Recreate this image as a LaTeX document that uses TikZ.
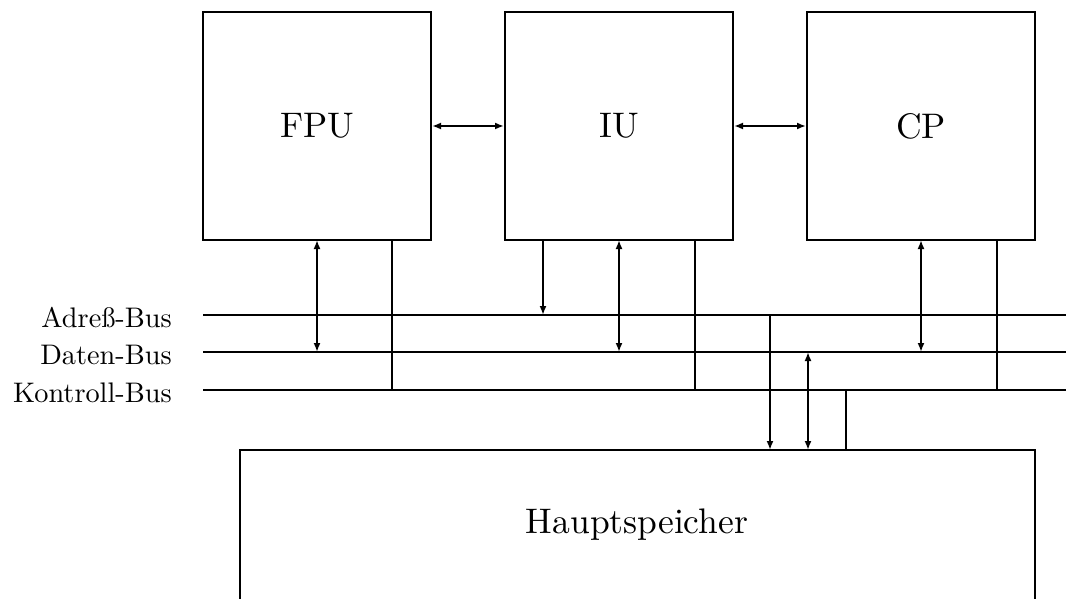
\documentclass[tikz,border=0pt]{standalone}
\usepackage{fontspec}
\setmainfont{lmroman10-regular.otf}
\usetikzlibrary{arrows.meta}
\begin{document}
\begin{tikzpicture}[x=1pt,y=-1pt,
  unitbox/.style={draw,line width=2pt,minimum width=228pt,minimum height=228pt,inner sep=0pt,font=\fontsize{35.5}{42}\selectfont},
  busline/.style={line width=1.9pt},
  thin/.style={line width=1.8pt},
  thick/.style={line width=2.7pt},
  tip/.style={-{Latex[length=9pt,width=7pt]}},
  dtip/.style={{Latex[length=9pt,width=7pt]}-{Latex[length=9pt,width=7pt]}},
  buslabel/.style={anchor=east,inner sep=0pt,font=\fontsize{28.3}{34}\selectfont}]
\useasboundingbox (0,0) rectangle (1066,599);
% units
\node[unitbox] (fpu) at (317,126) {FPU};
\node[unitbox] (iu) at (619,126) {IU};
\node[unitbox] (cp) at (921,126) {CP};
\draw[thin,dtip] (fpu.east) -- (iu.west);
\draw[thin,dtip] (iu.east) -- (cp.west);
% buses
\coordinate (a0) at (203,315); \coordinate (a1) at (1066,315);
\coordinate (d0) at (203,352); \coordinate (d1) at (1066,352);
\coordinate (k0) at (203,390); \coordinate (k1) at (1066,390);
\draw[busline] (a0) -- (a1);
\draw[busline] (d0) -- (d1);
\draw[busline] (k0) -- (k1);
\node[buslabel] (la) at (172,318) {Adreß-Bus};
\node[buslabel] (ld) at (172,355) {Daten-Bus};
\node[buslabel] (lk) at (172,393) {Kontroll-Bus};
% main memory
\coordinate (m1) at (240,602); \coordinate (m2) at (240,450);
\coordinate (m3) at (1035,450); \coordinate (m4) at (1035,602);
\draw[line width=2.4pt] (m1) -- (m2) -- (m3) -- (m4);
\node[font=\fontsize{35.5}{42}\selectfont] (hs) at (637,525) {Hauptspeicher};
% FPU connections
\coordinate (f1t) at (317,240); \coordinate (f1b) at (317,352);
\coordinate (f2t) at (392,240); \coordinate (f2b) at (392,390);
\draw[thin,dtip] (f1t) -- (f1b);
\draw[thick] (f2t) -- (f2b);
% IU connections
\coordinate (i1t) at (543,240); \coordinate (i1b) at (543,315);
\coordinate (i2t) at (619,240); \coordinate (i2b) at (619,352);
\coordinate (i3t) at (695,240); \coordinate (i3b) at (695,390);
\draw[thick,tip] (i1t) -- (i1b);
\draw[thin,dtip] (i2t) -- (i2b);
\draw[thin] (i3t) -- (i3b);
% CP connections
\coordinate (c1t) at (921,240); \coordinate (c1b) at (921,352);
\coordinate (c2t) at (997,240); \coordinate (c2b) at (997,390);
\draw[thick,dtip] (c1t) -- (c1b);
\draw[thin] (c2t) -- (c2b);
% memory connections
\coordinate (h1t) at (770,315); \coordinate (h1b) at (770,450);
\coordinate (h2t) at (808,352); \coordinate (h2b) at (808,450);
\coordinate (h3t) at (846,390); \coordinate (h3b) at (846,450);
\draw[thick,tip] (h1t) -- (h1b);
\draw[thin,dtip] (h2t) -- (h2b);
\draw[thin] (h3t) -- (h3b);
\end{tikzpicture}
\end{document}
